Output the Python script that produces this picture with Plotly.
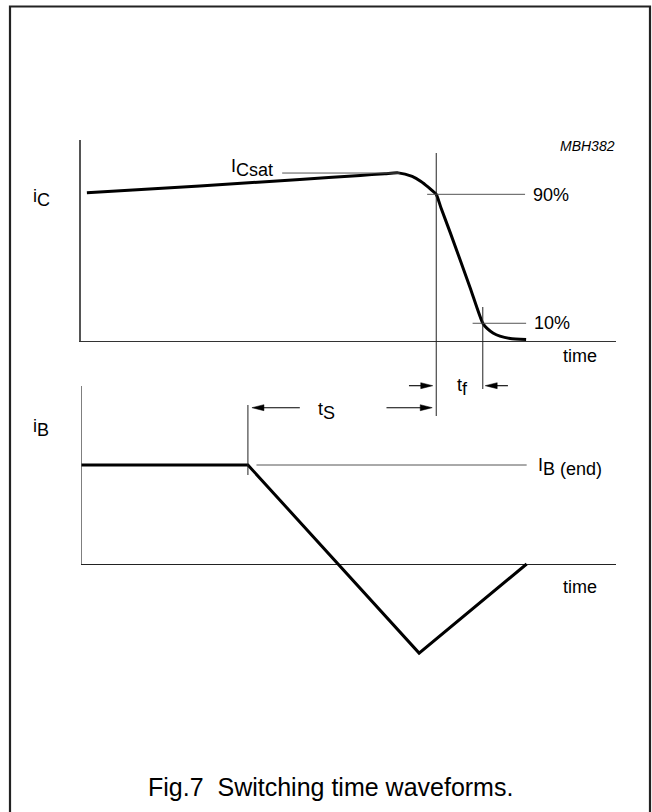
import plotly.graph_objects as go

W, H = 652, 812

# ---------------- data (time in arbitrary units 0..100) ----------------
# collector current, % of the 90 %/10 % reference scale
t_ic = [1.1, 22.2, 40.9, 52.2, 56.8, 59.3, 61.9, 63.55, 64.85, 65.7, 66.4,
        67.3, 69.0, 72.7, 75.1, 75.9, 77.0, 78.3, 80.2, 83.2]
ic_pct = [90.9, 95.2, 99.2, 101.7, 102.8, 103.3, 101.1, 98.0, 94.6, 92.1, 90.0,
          81.5, 66.4, 32.4, 10.0, 6.8, 4.0, 2.0, 0.6, 0.0]

# base current, relative to I_B(end)
t_ib = [0.0, 31.2, 63.2, 83.3]
ib_rel = [1.0, 1.0, -0.90, 0.0]

# characteristic points
t_s_start = 31.2      # start of storage time
t_90 = 66.4           # 90 % point of i_C
t_10 = 75.1           # 10 % point of i_C
ic_sat = 103.2
ib_end = 1.0
level_90 = 90
level_10 = 10

# text
caption = "Fig.7\u00a0 Switching time waveforms."
code_label = "MBH382"
axis_label = "time"

# ---------------- helpers (pixel -> paper) ----------------
def px(x):
    return x / W

def py(y):
    return 1 - y / H

FONT = "Liberation Sans, Arial, Helvetica, sans-serif"
GREY = "#555555"
X_SCALE = 5.35    # px per time unit
Y2_SCALE = 99.0   # px per i_B unit

def sub(base, s, size=18):
    return "%s<sub><span style='font-size:%dpx'>%s</span></sub>" % (base, size, s)

fig = go.Figure()
fig.add_trace(go.Scatter(x=t_ic, y=ic_pct, mode="lines", xaxis="x", yaxis="y",
                         line=dict(color="black", width=3, shape="spline", smoothing=0.6),
                         hoverinfo="skip"))
fig.add_trace(go.Scatter(x=t_ib, y=ib_rel, mode="lines", xaxis="x", yaxis="y2",
                         line=dict(color="black", width=3), hoverinfo="skip"))

ax_common = dict(showgrid=False, ticks="", showticklabels=False)
y2_axis_top = (564 - 386) / Y2_SCALE      # top of the drawn i_B axis
y2_top = (564 - 370) / Y2_SCALE           # room for the dimension arrows
y2_bot = -(660 - 564) / Y2_SCALE

fig.update_layout(
    width=W, height=H,
    margin=dict(l=0, r=0, t=0, b=0),
    paper_bgcolor="white", plot_bgcolor="rgba(0,0,0,0)",
    showlegend=False,
    font=dict(family=FONT, color="black"),
    xaxis=dict(domain=[px(81), px(616)], range=[0, 100], anchor="y",
               showline=True, linecolor="#333333", linewidth=1.3, zeroline=False, **ax_common),
    yaxis=dict(domain=[py(341), py(140)], range=[-1, 123.7], anchor="x",
               showline=True, linecolor=GREY, linewidth=1.5, zeroline=False, **ax_common),
    yaxis2=dict(domain=[py(660), py(370)], range=[y2_bot, y2_top], anchor="x",
                showline=False, zeroline=True, zerolinecolor="#222222", zerolinewidth=1.3,
                **ax_common),
)

shapes = []
# frame
shapes.append(dict(type="rect", xref="paper", yref="paper", x0=px(10), x1=px(650),
                   y0=py(830), y1=py(6.5), line=dict(color="#222222", width=2.2)))
# left axis of the lower panel
shapes.append(dict(type="line", xref="x", yref="y2", x0=0, x1=0, y0=0, y1=y2_axis_top,
                   line=dict(color=GREY, width=1.5)))
# reference levels
shapes.append(dict(type="line", xref="x", yref="y", x0=37.6, x1=59.6, y0=ic_sat, y1=ic_sat,
                   line=dict(color=GREY, width=1)))
shapes.append(dict(type="line", xref="x", yref="y", x0=64.7, x1=83.0, y0=level_90, y1=level_90,
                   line=dict(color=GREY, width=1)))
shapes.append(dict(type="line", xref="x", yref="y", x0=73.2, x1=83.2, y0=level_10, y1=level_10,
                   line=dict(color=GREY, width=1)))
shapes.append(dict(type="line", xref="x", yref="y2", x0=32.8, x1=83.3, y0=ib_end, y1=ib_end,
                   line=dict(color=GREY, width=1)))
# time markers
shapes.append(dict(type="line", xref="x", yref="paper", x0=t_90, x1=t_90, y0=py(416), y1=py(153),
                   line=dict(color="#222222", width=1)))
shapes.append(dict(type="line", xref="x", yref="paper", x0=t_10, x1=t_10, y0=py(389), y1=py(307),
                   line=dict(color="#222222", width=1)))
shapes.append(dict(type="line", xref="x", yref="y2", x0=t_s_start, x1=t_s_start, y0=0.899, y1=1.606,
                   line=dict(color="#222222", width=1)))

# dimension arrows (shaft + slender filled head)
HEAD_LEN = 12 / X_SCALE
HEAD_HW = 3 / Y2_SCALE

def arrow(head, tail, yv):
    d = 1 if head > tail else -1
    base = head - d * HEAD_LEN
    shapes.append(dict(type="line", xref="x", yref="y2", x0=tail, x1=base + d * 0.3, y0=yv, y1=yv,
                       line=dict(color="black", width=1.1)))
    path = "M %.3f,%.4f L %.3f,%.4f L %.3f,%.4f Z" % (head, yv, base, yv + HEAD_HW, base, yv - HEAD_HW)
    shapes.append(dict(type="path", xref="x", yref="y2", path=path, fillcolor="black",
                       line=dict(color="black", width=0.5)))

y_tf = (564 - 385.7) / Y2_SCALE
y_ts = (564 - 407.7) / Y2_SCALE
arrow(t_90 - 0.65, t_90 - 5.1, y_tf)
arrow(t_10 + 0.45, t_10 + 4.7, y_tf)
arrow(t_s_start + 0.75, t_s_start + 9.7, y_ts)
arrow(t_90 - 0.75, t_90 - 9.3, y_ts)

fig.update_layout(shapes=shapes)

ann = []

def label(text, x, y, size=18, xanchor="center", yanchor="middle", **kw):
    ann.append(dict(text=text, x=x, y=y, xref="paper", yref="paper", showarrow=False,
                    xanchor=xanchor, yanchor=yanchor, font=dict(size=size, family=FONT, color="black"),
                    **kw))

label(sub("i", "C"), px(31), py(198), xanchor="left")
label(sub("i", "B"), px(31), py(428), xanchor="left")
label(sub("I", "Csat"), px(275), py(168), xanchor="right")
label("90%", px(531), py(195), xanchor="left")
label("10%", px(532), py(323), xanchor="left")
label(axis_label, px(561), py(356), xanchor="left")
label(axis_label, px(561), py(587), xanchor="left")
label(sub("I", "B (end)"), px(536), py(467), xanchor="left")
label(sub("t", "S"), px(326), py(411))
label(sub("t", "f"), px(462), py(387))
label("<i>" + code_label + "</i>", px(617), py(146), size=14, xanchor="right")
label(caption, px(330), py(787), size=25)

fig.update_layout(annotations=ann)
fig.write_html("out.html", config={"displayModeBar": False},
               post_script="document.body.style.margin='0px';document.body.style.overflow='hidden';")
